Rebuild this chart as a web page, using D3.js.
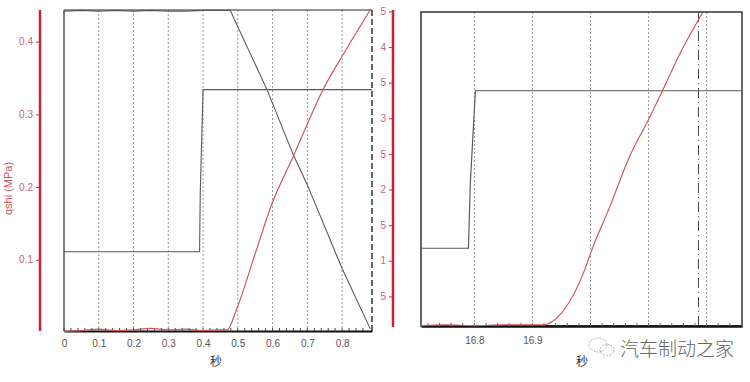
<!DOCTYPE html>
<html><head><meta charset="utf-8">
<script src="https://cdn.jsdelivr.net/npm/d3@7"></script>
<style>body{margin:0;background:#fff;} svg{display:block;font-family:"Liberation Sans","DejaVu Sans",Arial,sans-serif;}</style>
</head><body><svg id="c" width="750" height="382"></svg>
<script>
// ---------- DATA ----------
const leftXTicks = [0, 0.1, 0.2, 0.3, 0.4, 0.5, 0.6, 0.7, 0.8];
const leftXTickLabels = ["0", "0.1", "0.2", "0.3", "0.4", "0.5", "0.6", "0.7", "0.8"];
const leftYTicks = [0.1, 0.2, 0.3, 0.4];
const leftYTickLabels = ["0.1", "0.2", "0.3", "0.4"];
const rightYTicks = [0.5, 1, 1.5, 2, 2.5, 3, 3.5, 4, 4.5];
const rightYTickLabels = ["5", "1", "5", "2", "5", "3", "5", "4", "5"];
const leftYLabel = "qshi (MPa)";
const xLabel = "秒";

// left panel series (time in s)
const declineTime  = [0, 0.05, 0.1, 0.15, 0.2, 0.25, 0.3, 0.35, 0.4, 0.45, 0.478, 0.584, 0.659, 0.699, 0.8, 0.881];
const declineValue = [0.442, 0.443, 0.442, 0.443, 0.442, 0.443, 0.442, 0.442, 0.443, 0.443, 0.443, 0.334, 0.245, 0.204, 0.088, 0.005];
const stepTime  = [0, 0.39, 0.392, 0.40, 0.886];
const stepValue = [0.111, 0.111, 0.193, 0.334, 0.334];
const redTime  = [0, 0.05, 0.1, 0.15, 0.2, 0.25, 0.3, 0.35, 0.4, 0.45, 0.469, 0.498, 0.55, 0.599, 0.659, 0.70, 0.745, 0.80, 0.881];
const redValue = [0.01, 0.02, 0.04, 0.02, 0.03, 0.05, 0.03, 0.04, 0.02, 0.03, 0.03, 0.34, 1.10, 1.81, 2.46, 2.92, 3.40, 3.87, 4.52];

// right panel series
const rightXTicks = [16.8, 16.9];
const rightXTickLabels = ["16.8", "16.9"];
const rightGrid = [16.8, 16.9, 17.0, 17.1, 17.2];
const rStepTime  = [16.708, 16.7897, 16.793, 16.8017, 17.26];
const rStepValue = [0.111, 0.111, 0.203, 0.333, 0.333];
const rRedTime  = [16.708, 16.75, 16.80, 16.85, 16.90, 16.917, 16.95, 16.99, 17.002, 17.033, 17.067, 17.102, 17.124, 17.157, 17.193];
const rRedValue = [0.02, 0.03, 0.02, 0.03, 0.03, 0.03, 0.20, 0.82, 1.10, 1.72, 2.44, 3.01, 3.39, 3.97, 4.51];
const cursorTime = 17.186;
const watermark = "汽车制动之家";

// ---------- DRAW ----------
const svg = d3.select("#c");
const red = "#cc2233", lineRed = "#d0575a", gray = "#5a5a5a", frame = "#2a2a2a";

// ===== Left panel =====
const L = {x0: 64, x1: 372, y0: 10, y1: 331};
const lx = d3.scaleLinear().domain([0, 0.886]).range([L.x0, L.x1]);
const ly = d3.scaleLinear().domain([0, 0.4435]).range([L.y1 + 1.5, L.y0]);
const ry = d3.scaleLinear().domain([0, 4.52]).range([L.y1 + 1, L.y0]);

// gridlines
svg.append("g").selectAll("line").data(leftXTicks.filter(d => d > 0)).join("line")
  .attr("x1", d => lx(d)).attr("x2", d => lx(d)).attr("y1", L.y0).attr("y2", L.y1)
  .attr("stroke", "#9a9a9a").attr("stroke-width", 1).attr("stroke-dasharray", "2,2");

// frame
svg.append("line").attr("x1", L.x0).attr("x2", L.x1).attr("y1", L.y0).attr("y2", L.y0).attr("stroke", frame).attr("stroke-width", 1.2);
svg.append("line").attr("x1", L.x0).attr("x2", L.x0).attr("y1", L.y0).attr("y2", L.y1).attr("stroke", frame).attr("stroke-width", 1.2);
svg.append("line").attr("x1", L.x1).attr("x2", L.x1).attr("y1", L.y0).attr("y2", L.y1).attr("stroke", "#333").attr("stroke-width", 1.5).attr("stroke-dasharray", "6,3");

// bottom axis
const lxAxis = d3.axisBottom(lx).tickValues(leftXTicks).tickFormat((d, i) => leftXTickLabels[i]).tickSize(0).tickPadding(9);
const gxa = svg.append("g").attr("transform", `translate(0,${L.y1})`).call(lxAxis);
gxa.select(".domain").attr("stroke", "#111").attr("stroke-width", 2);
gxa.selectAll("text").attr("fill", "#555").attr("font-size", 10);
svg.append("g").selectAll("line").data(d3.range(0, 0.88, 0.02)).join("line")
  .attr("x1", d => lx(d)).attr("x2", d => lx(d)).attr("y1", L.y1 - 3).attr("y2", L.y1)
  .attr("stroke", "#444").attr("stroke-width", 1);

// lines
const mk = (xs, ys, c) => d3.line().x(d => xs(d[0])).y(d => ys(d[1])).curve(c || d3.curveLinear);
svg.append("path").datum(declineTime.map((t, i) => [t, declineValue[i]]))
  .attr("d", mk(lx, ly)).attr("fill", "none").attr("stroke", gray).attr("stroke-width", 1.1);
svg.append("path").datum(stepTime.map((t, i) => [t, stepValue[i]]))
  .attr("d", mk(lx, ly)).attr("fill", "none").attr("stroke", gray).attr("stroke-width", 1.1);
svg.append("path").datum(redTime.map((t, i) => [t, redValue[i]]))
  .attr("d", mk(lx, ry, d3.curveMonotoneX)).attr("fill", "none").attr("stroke", lineRed).attr("stroke-width", 1.2);

// left red axis
const lyAxis = d3.axisLeft(ly).tickValues(leftYTicks).tickFormat((d, i) => leftYTickLabels[i]).tickSize(4).tickPadding(3);
const gly = svg.append("g").attr("transform", "translate(40,0)").call(lyAxis);
gly.select(".domain").remove();
gly.selectAll(".tick line").attr("stroke", "#b04050");
gly.selectAll("text").attr("fill", "#c46a72").attr("font-size", 10);
svg.append("line").attr("x1", 40).attr("x2", 40).attr("y1", L.y0).attr("y2", L.y1).attr("stroke", red).attr("stroke-width", 2.5);
svg.append("text").attr("transform", `translate(12,${(L.y0 + L.y1) / 2 + 18}) rotate(-90)`)
  .attr("text-anchor", "middle").attr("fill", "#d05560").attr("font-size", 11).text(leftYLabel);

// right red axis
const ryAxis = d3.axisLeft(ry).tickValues(rightYTicks).tickFormat((d, i) => rightYTickLabels[i]).tickSize(4).tickPadding(3);
const gry = svg.append("g").attr("transform", "translate(393,0)").call(ryAxis);
gry.select(".domain").remove();
gry.selectAll(".tick line").attr("stroke", "#b04050");
gry.selectAll("text").attr("fill", "#c46a72").attr("font-size", 10);
svg.append("line").attr("x1", 393).attr("x2", 393).attr("y1", L.y0).attr("y2", L.y1 - 4).attr("stroke", red).attr("stroke-width", 2.5);

svg.append("text").attr("x", 216).attr("y", 366).attr("text-anchor", "middle").attr("fill", "#333").attr("font-size", 12)
  .attr("font-family", "Noto Sans CJK SC").text(xLabel);

// ===== Right panel =====
const R = {x0: 421, x1: 742, y0: 12, y1: 326};
const rx = d3.scaleLinear().domain([16.708, 17.261]).range([R.x0, R.x1]);
const rly = d3.scaleLinear().domain([0, 0.444]).range([R.y1 + 1, R.y0]);
const rry = d3.scaleLinear().domain([0, 4.52]).range([R.y1 + 1, R.y0]);

svg.append("g").selectAll("line").data(rightGrid).join("line")
  .attr("x1", d => rx(d)).attr("x2", d => rx(d)).attr("y1", R.y0).attr("y2", R.y1)
  .attr("stroke", "#9a9a9a").attr("stroke-width", 1).attr("stroke-dasharray", "2,2");

svg.append("rect").attr("x", R.x0).attr("y", R.y0).attr("width", R.x1 - R.x0).attr("height", R.y1 - R.y0)
  .attr("fill", "none").attr("stroke", "#333").attr("stroke-width", 1.5);

// cursor
svg.append("line").attr("x1", rx(cursorTime)).attr("x2", rx(cursorTime)).attr("y1", R.y0).attr("y2", R.y1)
  .attr("stroke", "#444").attr("stroke-width", 1).attr("stroke-dasharray", "10,4,1,4");

const rxAxis = d3.axisBottom(rx).tickValues(rightXTicks).tickFormat((d, i) => rightXTickLabels[i]).tickSize(0).tickPadding(11);
const grx = svg.append("g").attr("transform", `translate(0,${R.y1})`).call(rxAxis);
grx.select(".domain").attr("stroke", "#111").attr("stroke-width", 2.5);
grx.selectAll("text").attr("fill", "#555").attr("font-size", 10);
svg.append("g").selectAll("line").data(d3.range(16.72, 17.26, 0.02)).join("line")
  .attr("x1", d => rx(d)).attr("x2", d => rx(d)).attr("y1", R.y1 - 3).attr("y2", R.y1)
  .attr("stroke", "#666").attr("stroke-width", 1);

svg.append("path").datum(rStepTime.map((t, i) => [t, rStepValue[i]]))
  .attr("d", mk(rx, rly)).attr("fill", "none").attr("stroke", gray).attr("stroke-width", 1.2);
svg.append("path").datum(rRedTime.map((t, i) => [t, rRedValue[i]]))
  .attr("d", mk(rx, rry, d3.curveMonotoneX)).attr("fill", "none").attr("stroke", lineRed).attr("stroke-width", 1.2);

svg.append("text").attr("x", 582).attr("y", 366).attr("text-anchor", "middle").attr("fill", "#333").attr("font-size", 12)
  .attr("font-family", "Noto Sans CJK SC").text(xLabel);

// watermark
const wm = svg.append("g").attr("fill", "none").attr("stroke", "#999").attr("stroke-width", 1).attr("stroke-dasharray", "1.5,1.5");
wm.append("ellipse").attr("cx", 598).attr("cy", 345).attr("rx", 9).attr("ry", 7);
wm.append("ellipse").attr("cx", 607).attr("cy", 350).attr("rx", 7).attr("ry", 5.5);
svg.append("text").attr("x", 620).attr("y", 356).attr("fill", "#666").attr("font-size", 19)
  .attr("font-family", "Noto Sans CJK SC").attr("font-weight", 300).text(watermark);
</script></body></html>
